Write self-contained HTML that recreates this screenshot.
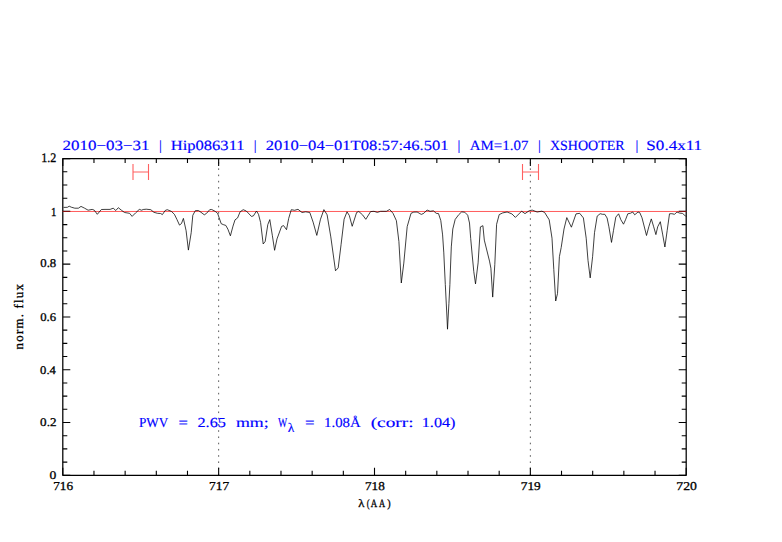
<!DOCTYPE html><html><head><meta charset="utf-8"><style>html,body{margin:0;padding:0;background:#fff;width:782px;height:542px;overflow:hidden}svg{display:block;text-rendering:geometricPrecision}</style></head><body>
<svg width="782" height="542" viewBox="0 0 782 542">
<line x1="218.65" y1="158.60" x2="218.65" y2="475.30" stroke="#5a5a5a" stroke-width="1" stroke-dasharray="1.6 4.635" stroke-dashoffset="2.72"/>
<line x1="530.35" y1="158.60" x2="530.35" y2="475.30" stroke="#5a5a5a" stroke-width="1" stroke-dasharray="1.6 4.635" stroke-dashoffset="2.72"/>
<path d="M62.80 475.30V467.80M62.80 158.60V166.10M93.97 475.30V470.80M93.97 158.60V163.10M125.14 475.30V470.80M125.14 158.60V163.10M156.31 475.30V470.80M156.31 158.60V163.10M187.48 475.30V470.80M187.48 158.60V163.10M218.65 475.30V467.80M218.65 158.60V166.10M249.82 475.30V470.80M249.82 158.60V163.10M280.99 475.30V470.80M280.99 158.60V163.10M312.16 475.30V470.80M312.16 158.60V163.10M343.33 475.30V470.80M343.33 158.60V163.10M374.50 475.30V467.80M374.50 158.60V166.10M405.67 475.30V470.80M405.67 158.60V163.10M436.84 475.30V470.80M436.84 158.60V163.10M468.01 475.30V470.80M468.01 158.60V163.10M499.18 475.30V470.80M499.18 158.60V163.10M530.35 475.30V467.80M530.35 158.60V166.10M561.52 475.30V470.80M561.52 158.60V163.10M592.69 475.30V470.80M592.69 158.60V163.10M623.86 475.30V470.80M623.86 158.60V163.10M655.03 475.30V470.80M655.03 158.60V163.10M686.20 475.30V467.80M686.20 158.60V166.10M62.80 475.30H70.30M686.20 475.30H678.70M62.80 462.10H67.30M686.20 462.10H681.70M62.80 448.91H67.30M686.20 448.91H681.70M62.80 435.71H67.30M686.20 435.71H681.70M62.80 422.52H70.30M686.20 422.52H678.70M62.80 409.32H67.30M686.20 409.32H681.70M62.80 396.12H67.30M686.20 396.12H681.70M62.80 382.93H67.30M686.20 382.93H681.70M62.80 369.73H70.30M686.20 369.73H678.70M62.80 356.54H67.30M686.20 356.54H681.70M62.80 343.34H67.30M686.20 343.34H681.70M62.80 330.15H67.30M686.20 330.15H681.70M62.80 316.95H70.30M686.20 316.95H678.70M62.80 303.75H67.30M686.20 303.75H681.70M62.80 290.56H67.30M686.20 290.56H681.70M62.80 277.36H67.30M686.20 277.36H681.70M62.80 264.17H70.30M686.20 264.17H678.70M62.80 250.97H67.30M686.20 250.97H681.70M62.80 237.77H67.30M686.20 237.77H681.70M62.80 224.58H67.30M686.20 224.58H681.70M62.80 211.38H70.30M686.20 211.38H678.70M62.80 198.19H67.30M686.20 198.19H681.70M62.80 184.99H67.30M686.20 184.99H681.70M62.80 171.80H67.30M686.20 171.80H681.70M62.80 158.60H70.30M686.20 158.60H678.70" stroke="#000" stroke-width="1.1" fill="none"/>
<rect x="62.80" y="158.60" width="623.40" height="316.70" fill="none" stroke="#000" stroke-width="1.25" stroke-linejoin="round"/>
<line x1="62.80" y1="211.48" x2="686.20" y2="211.48" stroke="#ff5c5c" stroke-width="1.0"/>
<path d="M62.80 211.43H70.30M678.70 211.43H686.20" stroke="#8a1010" stroke-width="1.1"/>
<path d="M133.00 164V180M148.50 164V180M133.00 172H148.50" stroke="#ff6060" stroke-width="1.1" fill="none"/>
<path d="M522.50 164V180M538.50 164V180M522.50 172H538.50" stroke="#ff6060" stroke-width="1.1" fill="none"/>
<path d="M63.6 207.4 L67.4 207.3 L69.2 206.2 L71.3 207.2 L74.8 208.2 L78.4 208.2 L81.0 206.4 L84.6 208.2 L88.1 210.2 L92.2 209.4 L94.3 210.2 L97.3 214.3 L101.4 209.5 L105.0 209.4 L110.1 209.4 L113.2 208.2 L115.8 210.5 L118.3 207.7 L121.4 210.2 L124.5 212.5 L129.6 213.3 L132.1 216.4 L135.7 212.8 L139.3 209.4 L141.6 210.2 L143.2 209.5 L146.2 209.2 L150.8 209.7 L153.9 212.3 L157.5 213.3 L160.6 213.5 L162.4 214.6 L165.2 210.5 L167.2 209.7 L171.3 211.3 L174.4 214.3 L176.9 219.4 L179.5 225.1 L181.5 223.5 L183.4 218.4 L186.1 230.7 L188.4 250.1 L191.2 232.7 L192.8 215.3 L195.3 210.7 L198.4 210.5 L201.0 212.3 L204.3 214.8 L206.6 213.3 L209.7 209.7 L211.7 209.5 L215.1 211.3 L217.6 213.3 L219.2 217.9 L221.2 223.7 L223.8 224.8 L225.8 225.4 L227.9 229.2 L230.4 235.8 L233.0 226.1 L235.0 219.9 L237.6 217.9 L240.1 211.8 L243.2 209.7 L246.3 211.0 L251.4 216.4 L253.4 215.9 L256.5 211.0 L258.5 214.3 L260.6 222.5 L263.2 244.0 L265.2 241.4 L267.8 224.6 L269.8 219.6 L272.4 235.8 L274.6 250.3 L277.0 238.9 L281.6 226.4 L283.6 225.6 L286.5 229.7 L288.7 218.4 L291.3 209.7 L294.6 210.3 L298.0 209.3 L302.0 212.5 L305.7 211.8 L309.8 212.5 L313.1 222.1 L316.8 235.4 L320.5 219.2 L323.9 209.6 L327.1 214.8 L330.8 236.9 L335.5 270.8 L338.2 267.9 L341.1 244.3 L344.1 219.2 L347.0 211.8 L349.3 215.5 L352.2 226.3 L356.6 212.5 L358.8 211.5 L362.5 214.8 L365.8 219.3 L370.6 211.6 L374.0 211.3 L377.3 212.4 L380.6 211.3 L386.4 211.3 L389.7 209.5 L393.0 213.3 L396.4 220.7 L398.9 241.5 L401.3 283.0 L403.8 263.1 L407.2 226.6 L411.0 213.3 L413.8 212.1 L417.1 212.0 L421.3 214.4 L423.8 213.3 L427.1 210.0 L430.1 211.3 L433.4 210.8 L436.2 213.3 L438.5 213.6 L440.8 220.6 L442.6 234.9 L443.8 252.9 L444.5 268.0 L445.3 284.4 L446.4 306.0 L447.0 318.0 L447.5 329.2 L448.1 318.0 L448.9 303.7 L449.9 284.4 L450.5 267.0 L451.3 246.9 L452.8 229.0 L455.2 219.4 L458.8 214.6 L461.7 211.9 L464.7 212.2 L467.7 215.2 L469.5 223.0 L470.7 238.5 L472.2 255.0 L473.8 271.7 L475.5 283.9 L478.1 262.9 L480.4 226.9 L482.9 225.7 L484.3 240.1 L489.5 261.1 L490.9 268.2 L492.7 297.1 L494.8 264.6 L496.6 224.3 L499.2 214.6 L502.7 212.9 L507.1 212.0 L511.9 213.9 L515.4 217.4 L521.6 211.2 L525.0 213.6 L529.3 210.7 L532.2 210.1 L537.1 212.0 L541.9 211.2 L544.6 212.4 L549.2 219.8 L552.0 238.2 L553.8 269.6 L555.7 301.0 L557.5 293.6 L559.4 256.7 L561.2 247.5 L564.0 229.0 L566.8 217.6 L571.4 227.2 L576.0 213.9 L579.7 213.3 L583.4 217.9 L586.2 238.2 L588.0 260.4 L590.2 277.9 L592.6 256.7 L594.5 232.7 L597.2 216.1 L600.2 213.7 L602.5 214.3 L604.8 214.3 L607.1 218.0 L608.9 226.8 L611.5 242.4 L613.5 230.4 L615.8 217.1 L618.6 213.8 L620.9 219.8 L623.5 224.2 L625.5 219.8 L627.8 213.8 L630.6 213.2 L632.7 212.0 L634.7 214.8 L638.0 212.0 L639.8 212.7 L642.0 217.8 L644.1 226.0 L646.5 235.5 L648.8 226.8 L651.3 218.9 L653.7 226.8 L655.9 234.6 L657.7 226.8 L660.3 221.7 L662.6 234.1 L664.9 247.0 L667.2 230.4 L669.5 213.8 L671.8 213.7 L674.6 214.3 L676.9 212.0 L679.7 213.1 L682.4 213.4 L684.7 215.2 L686.1 216.6" fill="none" stroke="#000" stroke-width="0.75" stroke-linejoin="round"/>
<g font-family="Liberation Serif, serif" fill="#0000ff" stroke="#0000ff" stroke-width="0.15">
<text x="62.61" y="149.58" font-size="14.12" textLength="86.97" lengthAdjust="spacingAndGlyphs">2010−03−31</text>
<text x="159.08" y="149.58" font-size="14.12" textLength="2.82" lengthAdjust="spacingAndGlyphs">|</text>
<text x="170.77" y="149.58" font-size="14.12" textLength="73.79" lengthAdjust="spacingAndGlyphs">Hip086311</text>
<text x="253.83" y="149.58" font-size="14.12" textLength="2.82" lengthAdjust="spacingAndGlyphs">|</text>
<text x="265.67" y="149.58" font-size="14.12" textLength="182.94" lengthAdjust="spacingAndGlyphs">2010−04−01T08:57:46.501</text>
<text x="457.62" y="149.58" font-size="14.12" textLength="2.82" lengthAdjust="spacingAndGlyphs">|</text>
<text x="469.82" y="149.58" font-size="14.12" textLength="58.59" lengthAdjust="spacingAndGlyphs">AM=1.07</text>
<text x="537.94" y="149.58" font-size="14.12" textLength="2.82" lengthAdjust="spacingAndGlyphs">|</text>
<text x="549.92" y="149.58" font-size="14.12" textLength="74.77" lengthAdjust="spacingAndGlyphs">XSHOOTER</text>
<text x="635.45" y="149.58" font-size="14.12" textLength="2.82" lengthAdjust="spacingAndGlyphs">|</text>
<text x="646.38" y="149.58" font-size="14.12" textLength="55.75" lengthAdjust="spacingAndGlyphs">S0.4x11</text>
<text x="138.95" y="427.40" font-size="13.84" textLength="29.39" lengthAdjust="spacingAndGlyphs">PWV</text>
<text x="178.59" y="427.40" font-size="13.84" textLength="9.42" lengthAdjust="spacingAndGlyphs">=</text>
<text x="197.47" y="427.40" font-size="13.84" textLength="28.40" lengthAdjust="spacingAndGlyphs">2.65</text>
<text x="235.99" y="427.40" font-size="13.84" textLength="32.73" lengthAdjust="spacingAndGlyphs">mm;</text>
<text x="278.09" y="427.40" font-size="13.84" textLength="9.26" lengthAdjust="spacingAndGlyphs">W</text>
<text x="287.66" y="432.48" font-size="13.07" textLength="6.58" lengthAdjust="spacingAndGlyphs">λ</text>
<text x="304.96" y="427.40" font-size="13.84" textLength="9.61" lengthAdjust="spacingAndGlyphs">=</text>
<text x="324.12" y="427.40" font-size="13.84" textLength="36.50" lengthAdjust="spacingAndGlyphs">1.08Å</text>
<text x="370.69" y="427.40" font-size="13.84" textLength="42.82" lengthAdjust="spacingAndGlyphs">(corr:</text>
<text x="421.76" y="427.40" font-size="13.84" textLength="33.77" lengthAdjust="spacingAndGlyphs">1.04)</text>
</g>
<g font-family="Liberation Serif, serif" fill="#000" stroke="#000" stroke-width="0.30">
<text x="53.21" y="490.25" font-size="12.13" textLength="19.80" lengthAdjust="spacingAndGlyphs">716</text>
<text x="208.98" y="490.37" font-size="12.13" textLength="20.12" lengthAdjust="spacingAndGlyphs">717</text>
<text x="365.01" y="490.08" font-size="12.01" textLength="19.77" lengthAdjust="spacingAndGlyphs">718</text>
<text x="520.82" y="490.00" font-size="11.93" textLength="19.96" lengthAdjust="spacingAndGlyphs">719</text>
<text x="676.30" y="490.23" font-size="12.01" textLength="20.61" lengthAdjust="spacingAndGlyphs">720</text>
<text x="41.15" y="162.40" font-size="13.05" textLength="15.05" lengthAdjust="spacingAndGlyphs">1.2</text>
<text x="50.92" y="215.88" font-size="12.10" textLength="5.38" lengthAdjust="spacingAndGlyphs">1</text>
<text x="40.28" y="267.19" font-size="11.95" textLength="15.95" lengthAdjust="spacingAndGlyphs">0.8</text>
<text x="40.28" y="321.35" font-size="11.82" textLength="15.86" lengthAdjust="spacingAndGlyphs">0.6</text>
<text x="40.11" y="373.79" font-size="11.70" textLength="15.74" lengthAdjust="spacingAndGlyphs">0.4</text>
<text x="40.11" y="426.27" font-size="11.74" textLength="16.35" lengthAdjust="spacingAndGlyphs">0.2</text>
<text x="49.60" y="479.15" font-size="11.73" textLength="6.78" lengthAdjust="spacingAndGlyphs">0</text>
</g>
<g font-family="Liberation Serif, serif" fill="#000" stroke="#000" stroke-width="0.30">
<text x="358.24" y="506.70" font-size="11.26" textLength="6.16" lengthAdjust="spacingAndGlyphs">λ</text>
<text x="366.67" y="506.70" font-size="11.26" textLength="2.86" lengthAdjust="spacingAndGlyphs">(</text>
<text x="370.63" y="506.70" font-size="11.26" textLength="6.43" lengthAdjust="spacingAndGlyphs">A</text>
<text x="379.06" y="506.70" font-size="11.26" textLength="6.12" lengthAdjust="spacingAndGlyphs">A</text>
<text x="387.35" y="506.70" font-size="11.26" textLength="3.40" lengthAdjust="spacingAndGlyphs">)</text>
<text transform="translate(22.6 349.4) rotate(-90)" font-size="12.9" textLength="65.3" lengthAdjust="spacing">norm. flux</text>
</g>
</svg></body></html>
